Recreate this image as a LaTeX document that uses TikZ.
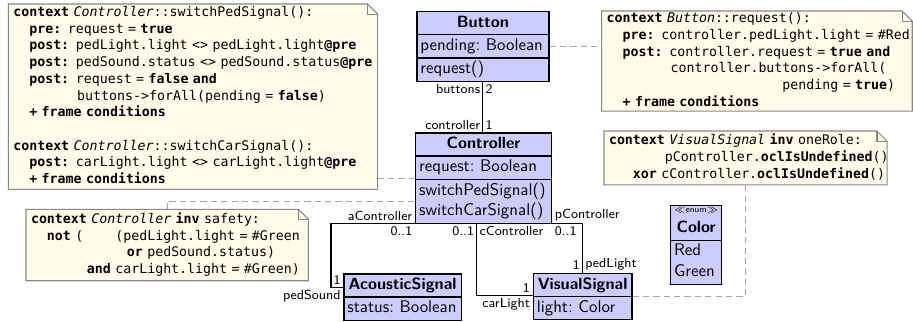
\documentclass[tikz,border=0pt]{standalone}
\usepackage{fontspec}
\setmonofont{DejaVu Sans Mono}
\usetikzlibrary{shapes.multipart}

\definecolor{classfill}{RGB}{204,204,255}
\definecolor{notefill}{RGB}{255,253,234}
\definecolor{noteline}{RGB}{135,135,135}
\definecolor{deplink}{RGB}{165,165,165}

\newcommand\notefont{\ttfamily\fontsize{7.67}{9.65}\selectfont}
\newcommand\classfont{\sffamily\fontsize{9.75}{12}\selectfont\frenchspacing}
\newcommand\rolefont{\sffamily\fontsize{7.6}{9}\selectfont}
% indentation by a number of monospaced character cells
\newcommand\mspc[1]{\hspace*{#1\fontcharwd\font`\x}}
% one unbreakable line of OCL code
\newcommand\codeline[1]{\mbox{\strut#1}}
% a centred line inside a class compartment
\newcommand\ctr[1]{\hspace*{\fill}\strut#1\hspace*{\fill}\null}
\newcommand\ctitle[1]{\ctr{{\fontsize{9.4}{12}\selectfont\bfseries #1}}}

\tikzset{
  umlclass/.style={rectangle split, rectangle split parts=3, draw, line width=0.7pt,
    fill=classfill, inner xsep=2pt, inner ysep=0.35pt, anchor=north west,
    font=\classfont, align=left},
  umlnote/.style={fill=notefill, outer sep=0pt, inner xsep=2.9pt, inner ysep=0pt,
    anchor=north west, font=\notefont, align=left},
  notedraw/.style={draw=noteline, line width=0.6pt},
  assoc/.style={draw=black, line width=0.6pt},
  dep/.style={draw=deplink, line width=0.6pt, dash pattern=on 3.6pt off 2.4pt},
  role/.style={font=\rolefont, inner sep=1.3pt},
}

% outline of a note with its folded top-right corner
\newcommand\notefold[1]{%
  \fill[white] ([xshift=-5.8pt]#1.north east) -- (#1.north east) -- ([yshift=-5.8pt]#1.north east) -- cycle;
  \draw[notedraw] (#1.north west) -- ([xshift=-5.8pt]#1.north east) -- ([yshift=-5.8pt]#1.north east)
    -- (#1.south east) -- (#1.south west) -- cycle;
  \draw[notedraw] ([xshift=-5.8pt]#1.north east) |- ([yshift=-5.8pt]#1.north east);}

\begin{document}
\begin{tikzpicture}[x=0.578pt, y=-0.578pt]
\useasboundingbox (0,0) rectangle (913,322);

% ---------- OCL notes ----------
\node[umlnote, text width=207.7pt, minimum width=213.5pt, minimum height=107.2pt] (bignote) at (8.3,4) {%
\codeline{\textbf{context} \textit{Controller}::switchPedSignal():}\\
\codeline{\mspc{2}\textbf{pre:} request = \textbf{true}}\\
\codeline{\mspc{2}\textbf{post:} pedLight.light <> pedLight.light\textbf{@pre}}\\
\codeline{\mspc{2}\textbf{post:} pedSound.status <> pedSound.status\textbf{@pre}}\\
\codeline{\mspc{2}\textbf{post:} request = \textbf{false and}}\\
\codeline{\mspc{8}buttons->forAll(pending = \textbf{false})}\\
\codeline{\mspc{2}\textbf{+ frame conditions}}\\
\codeline{}\\
\codeline{\textbf{context} \textit{Controller}::switchCarSignal():}\\
\codeline{\mspc{2}\textbf{post:} carLight.light <> carLight.light\textbf{@pre}}\\
\codeline{\mspc{2}\textbf{+ frame conditions}}};
\notefold{bignote}

\node[umlnote, text width=173.7pt, minimum width=179.5pt, minimum height=57.8pt] (bnote) at (601.7,11) {%
\codeline{\textbf{context} \textit{Button}::request():}\\
\codeline{\mspc{2}\textbf{pre:} controller.pedLight.light = \#Red}\\
\codeline{\mspc{2}\textbf{post:} controller.request = \textbf{true and}}\\
\codeline{\mspc{8}controller.buttons->forAll(}\\
\codeline{\mspc{22}pending = \textbf{true})}\\
\codeline{\mspc{2}\textbf{+ frame conditions}}};
\notefold{bnote}

\node[umlnote, text width=157.8pt, minimum width=163.6pt, minimum height=31.2pt] (onerole) at (604,131) {%
\codeline{\textbf{context} \textit{VisualSignal} \textbf{inv} oneRole:}\\
\codeline{\mspc{7}pController.\textbf{oclIsUndefined}()}\\
\codeline{\mspc{3}\textbf{xor} cController.\textbf{oclIsUndefined}()}};
\notefold{onerole}

\node[umlnote, text width=157.4pt, minimum width=163.2pt, minimum height=41.3pt] (safety) at (26,209.3) {%
\codeline{\textbf{context} \textit{Controller} \textbf{inv} safety:}\\
\codeline{\mspc{2}\textbf{not} (\mspc{4}(pedLight.light = \#Green}\\
\codeline{\mspc{12}\textbf{or} pedSound.status)}\\
\codeline{\mspc{7}\textbf{and} carLight.light = \#Green)}};
\notefold{safety}

% ---------- classes ----------
\node[umlclass, text width=72.3pt] (button) at (416.3,11)
  {\ctitle{Button}\nodepart{second}\strut pending: Boolean\nodepart{third}\strut request()};
\node[umlclass, text width=74.6pt] (ctrl) at (415,132.3)
  {\ctitle{Controller}\nodepart{second}\strut request: Boolean
   \nodepart{third}\strut switchPedSignal()\\\strut switchCarSignal()};
\node[umlclass, rectangle split parts=2, text width=63.9pt] (acoustic) at (343.3,273.3)
  {\ctitle{AcousticSignal}\nodepart{second}\strut status: Boolean};
\node[umlclass, rectangle split parts=2, text width=53pt] (vs) at (532.7,272.7)
  {\ctitle{VisualSignal}\nodepart{second}\strut light: Color};
\node[umlclass, rectangle split parts=2, text width=25.5pt] (color) at (670,205)
  {\hspace*{\fill}{\fontsize{5}{6}\selectfont$\ll$enum$\gg$}\hspace*{\fill}\\\ctitle{Color}
   \nodepart{second}\strut Red\\\strut Green};

% ---------- associations ----------
\draw[assoc] (button.south)
  -- node[role, pos=0, below left] {buttons} node[role, pos=0, below right] {2}
     node[role, pos=1, above left] {controller} node[role, pos=1, above right] {1}
  (button.south |- ctrl.north);

\draw[assoc] (ctrl.south west)
  -- node[role, pos=0, above left] {aController} node[role, pos=0, below left] {0..1}
  ++(-84,0)
  |- node[role, pos=1, above left] {1} node[role, pos=1, below left] {pedSound}
  ([yshift=-8.1pt]acoustic.north west);

\draw[assoc] ([xshift=-3.9pt]ctrl.south)
  |- node[role, pos=0, below left] {0..1} node[role, pos=0, below right] {cController}
     node[role, pos=1, above left] {1} node[role, pos=1, below left] {carLight}
  ([yshift=-13pt]vs.north west);

\draw[assoc] (ctrl.south east)
  -| node[role, pos=0, above right] {pController} node[role, pos=0, below right] {0..1}
     node[role, pos=1, above left] {1} node[role, pos=1, above right] {pedLight}
  (vs.north);

% ---------- note attachments ----------
\draw[dep] (button.east) -- (button.east -| bnote.west);
\draw[dep] (ctrl.west) -- (ctrl.west -| bignote.east);
\draw[dep] (safety.north) |- ([yshift=-13.3pt]ctrl.west);
\draw[dep] (vs.east) -| (onerole.south);
\end{tikzpicture}
\end{document}
